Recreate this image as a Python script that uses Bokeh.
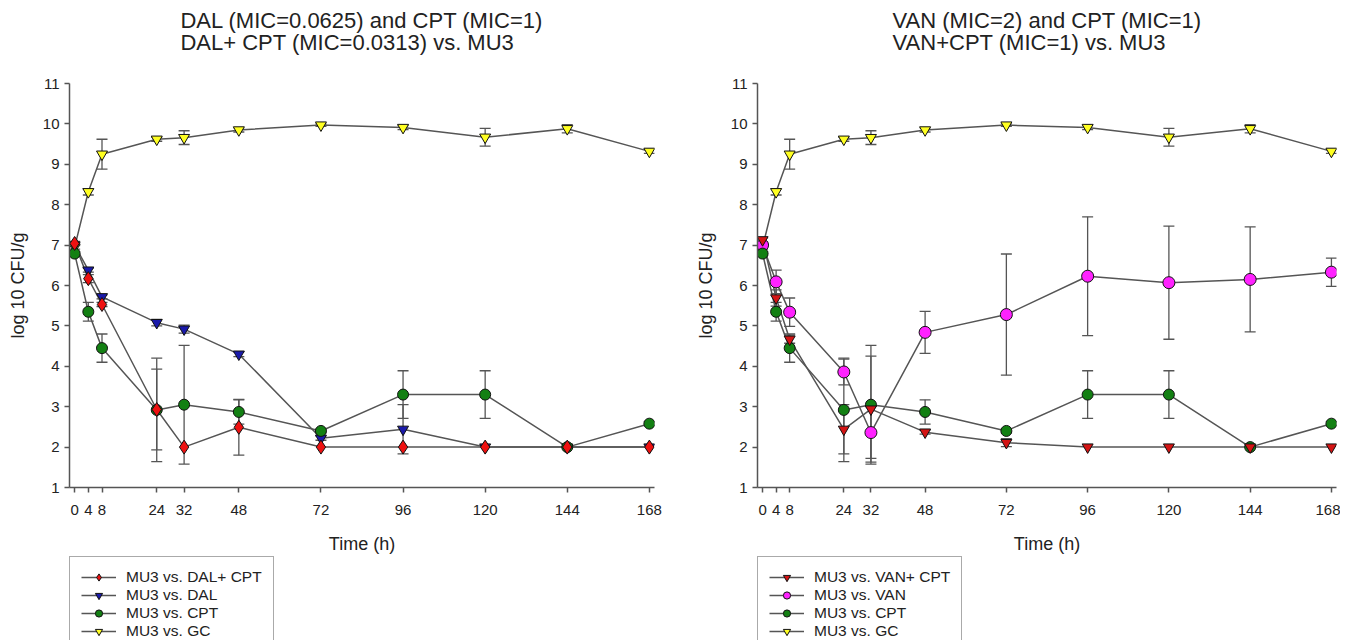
from bokeh.plotting import figure
from bokeh.layouts import row, column
from bokeh.models import (Range1d, FixedTicker, Legend, LegendItem,
                          Whisker, TeeHead, ColumnDataSource)
from bokeh.embed import file_html
from bokeh.resources import INLINE

# ---------------- data ----------------
times = [0, 4, 8, 24, 32, 48, 72, 96, 120, 144, 168]
x_ticks = [0, 4, 8, 24, 32, 48, 72, 96, 120, 144, 168]
y_ticks = [1, 2, 3, 4, 5, 6, 7, 8, 9, 10, 11]

# left panel
dal_cpt = [7.04, 6.17, 5.53, 2.93, 2.00, 2.49, 2.00, 2.00, 2.00, 2.00, 2.00]
dal_cpt_err = [0.05, 0.10, 0.05, 1.00, 0.0, 0.69, 0.0, 0.0, 0.0, 0.0, 0.0]
dal = [7.00, 6.38, 5.72, 5.08, 4.92, 4.30, 2.22, 2.44, 2.00, 2.00, 2.00]
dal_err = [0.0, 0.05, 0.05, 0.08, 0.10, 0.06, 0.05, 0.61, 0.0, 0.0, 0.0]

# shared
cpt = [6.79, 5.35, 4.45, 2.92, 3.05, 2.87, 2.40, 3.30, 3.30, 2.00, 2.58]
cpt_err = [0.05, 0.23, 0.35, 1.28, 1.47, 0.30, 0.05, 0.59, 0.59, 0.0, 0.05]
gc = [6.95, 8.32, 9.25, 9.62, 9.66, 9.85, 9.97, 9.91, 9.67, 9.88, 9.32]
gc_err = [0.05, 0.08, 0.37, 0.05, 0.17, 0.05, 0.03, 0.05, 0.22, 0.10, 0.05]

# right panel
van_cpt = [7.13, 5.69, 4.67, 2.44, 2.94, 2.37, 2.11, 2.00, 2.00, 2.00, 2.00]
van_cpt_err = [0.05, 0.20, 0.10, 0.61, 1.31, 0.05, 0.10, 0.0, 0.0, 0.0, 0.0]
van = [7.00, 6.09, 5.34, 3.86, 2.36, 4.84, 5.28, 6.23, 6.07, 6.15, 6.33]
van_err = [0.05, 0.29, 0.35, 0.32, 0.64, 0.52, 1.50, 1.47, 1.40, 1.30, 0.35]

FONT = "Liberation Sans"
LINE = "#555555"
PLOT_H = 556
LEG_H = 84


def make_panel(title, series, draw_order, width, b_left, b_right):
    p = figure(width=width, height=PLOT_H, x_range=Range1d(-1.5, 169.5),
               y_range=Range1d(1, 11), output_backend="svg", toolbar_location=None,
               min_border_left=b_left, min_border_right=b_right,
               min_border_top=83, min_border_bottom=69)
    p.outline_line_color = None
    p.grid.visible = False

    # two title lines plus a blank line that keeps them clear of the frame
    p.title.text = title + "\n "
    p.title.align = "center"
    p.title.vertical_align = "top"
    p.title.text_font = FONT
    p.title.text_font_size = "22px"
    p.title.text_font_style = "normal"
    p.title.text_color = "#222222"
    p.title.text_line_height = 0.88
    p.title.standoff = 9

    for ax in (p.xaxis[0], p.yaxis[0]):
        ax.axis_line_color = LINE
        ax.axis_line_width = 1.5
        ax.major_tick_line_color = LINE
        ax.major_tick_line_width = 1.5
        ax.major_tick_out = 5
        ax.major_tick_in = 0
        ax.minor_tick_line_color = None
        ax.major_label_text_font = FONT
        ax.major_label_text_font_size = "15px"
        ax.major_label_text_color = "#222222"
        ax.axis_label_text_font = FONT
        ax.axis_label_text_font_size = "18px"
        ax.axis_label_text_font_style = "normal"
        ax.axis_label_text_color = "#222222"
    p.xaxis.ticker = FixedTicker(ticks=x_ticks)
    p.yaxis.ticker = FixedTicker(ticks=y_ticks)
    p.xaxis.axis_label = "Time (h)"
    p.yaxis.axis_label = "log 10 CFU/g"
    p.xaxis.major_label_standoff = 12
    p.xaxis.axis_label_standoff = 16
    p.yaxis.major_label_standoff = 5
    p.yaxis.axis_label_standoff = 12

    for key in draw_order:
        s = series[key]
        src = ColumnDataSource(dict(t=times, y=s["y"]))
        ups = [(t, v + e, v - e) for t, v, e in zip(times, s["y"], s["err"]) if e > 0]
        wsrc = ColumnDataSource(dict(t=[u[0] for u in ups], upper=[u[1] for u in ups],
                                     lower=[u[2] for u in ups]))
        w = Whisker(base="t", upper="upper", lower="lower", source=wsrc,
                    line_color=LINE, line_width=1.3, level="underlay",
                    upper_head=TeeHead(size=11, line_color=LINE, line_width=1.3),
                    lower_head=TeeHead(size=11, line_color=LINE, line_width=1.3))
        p.add_layout(w)
        p.line("t", "y", source=src, line_color=LINE, line_width=1.5)
    for key in draw_order:
        s = series[key]
        src = ColumnDataSource(dict(t=times, y=s["y"]))
        p.scatter("t", "y", source=src, marker=s["marker"], size=s["size"],
                  fill_color=s["color"], line_color="#111111", line_width=1)
    return p


def make_legend(series, width, b_left):
    # legend-only strip under the plot; proxies sit outside its visible range
    lf = figure(width=width, height=LEG_H, x_range=Range1d(1000, 1001),
                y_range=Range1d(1000, 1001), x_axis_type=None, y_axis_type=None,
                output_backend="svg", toolbar_location=None,
                min_border_left=b_left, min_border_right=0,
                min_border_top=0, min_border_bottom=0)
    lf.outline_line_color = None
    lf.grid.visible = False
    items = []
    for key in series:
        s = series[key]
        src = ColumnDataSource(dict(t=times, y=s["y"]))
        lr = lf.line("t", "y", source=src, line_color=LINE, line_width=1.5)
        sr = lf.scatter("t", "y", source=src, marker=s["marker"], size=s["size"],
                        fill_color=s["color"], line_color="#111111", line_width=1)
        items.append(LegendItem(label=s["label"], renderers=[lr, sr]))
    leg = Legend(items=items, location="top_left",
                 label_text_font=FONT, label_text_font_size="15.5px",
                 label_text_color="#222222",
                 glyph_width=35, glyph_height=18, label_height=18, spacing=0,
                 label_standoff=10, padding=11, margin=0,
                 border_line_color=LINE, border_line_width=1,
                 background_fill_color="white", background_fill_alpha=1)
    lf.add_layout(leg, "center")
    return lf


left_series = {
    "combo": dict(label="MU3 vs. DAL+ CPT", y=dal_cpt, err=dal_cpt_err,
                  marker="diamond", size=14, color="#ee1111"),
    "single": dict(label="MU3 vs. DAL", y=dal, err=dal_err,
                   marker="inverted_triangle", size=11, color="#1a1aaa"),
    "cpt": dict(label="MU3 vs. CPT", y=cpt, err=cpt_err,
                marker="circle", size=11, color="#138013"),
    "gc": dict(label="MU3 vs. GC", y=gc, err=gc_err,
               marker="inverted_triangle", size=11, color="#ffff22"),
}
right_series = {
    "combo": dict(label="MU3 vs. VAN+ CPT", y=van_cpt, err=van_cpt_err,
                  marker="inverted_triangle", size=11, color="#d41414"),
    "single": dict(label="MU3 vs. VAN", y=van, err=van_err,
                   marker="circle", size=12, color="#ff22ff"),
    "cpt": dict(label="MU3 vs. CPT", y=cpt, err=cpt_err,
                marker="circle", size=11, color="#138013"),
    "gc": dict(label="MU3 vs. GC", y=gc, err=gc_err,
               marker="inverted_triangle", size=11, color="#ffff22"),
}
order = ["gc", "single", "cpt", "combo"]

p1 = make_panel("DAL (MIC=0.0625) and CPT (MIC=1)\nDAL+ CPT (MIC=0.0313) vs. MU3",
                left_series, order, 690, 65, 36)
l1 = make_legend(left_series, 690, 69)
p2 = make_panel("VAN (MIC=2) and CPT (MIC=1)\nVAN+CPT (MIC=1) vs. MU3",
                right_series, order, 650, 65, 4)
l2 = make_legend(right_series, 650, 67)

layout = row(column(p1, l1), column(p2, l2))
open("out.html", "w").write(file_html(layout, INLINE))
